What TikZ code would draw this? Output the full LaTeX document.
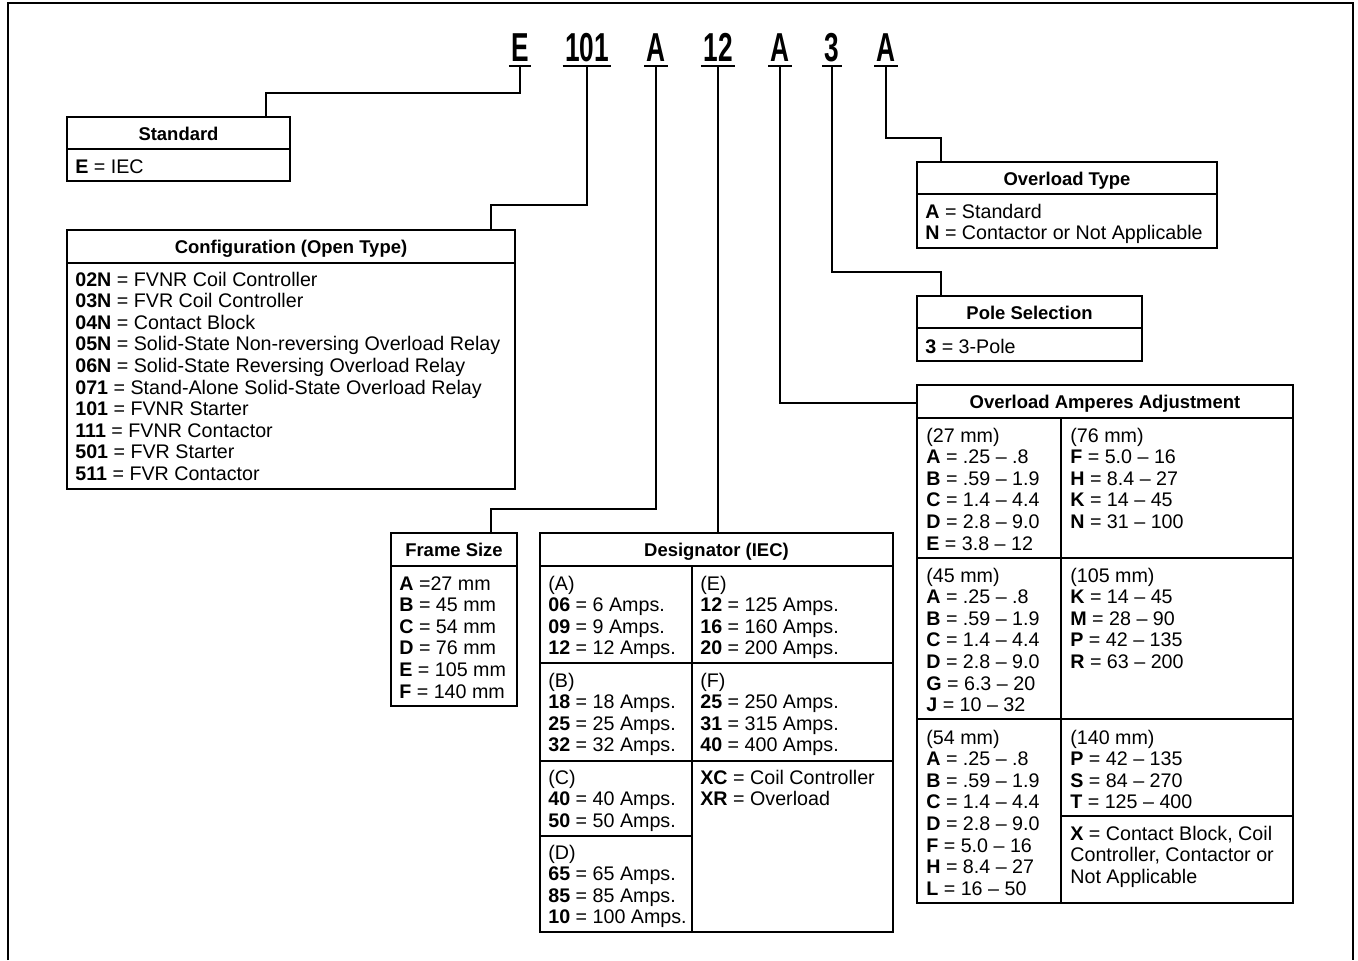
\documentclass[tikz,border=0pt]{standalone}
\usepackage{fontspec}
\setmainfont{Liberation Sans}
\usepackage{graphicx}
\usetikzlibrary{calc,fit}
\tikzset{
  boxline/.style={line width=.85pt},
  boxfr/.style={draw,line width=.85pt,inner sep=0pt,outer sep=0pt},
  boxhd/.style={anchor=base,inner sep=0pt,font=\fontsize{10.5}{12}\selectfont\bfseries},
  entry/.style={anchor=base west,inner sep=0pt,font=\fontsize{11.2}{13}\selectfont},
  codech/.style={anchor=south,inner xsep=1.2pt,inner ysep=2.2pt,font=\fontsize{23}{23}\selectfont\bfseries},
  uline/.style={line width=1.1pt},
  link/.style={line width=.7pt}
}
\newcommand{\bk}[1]{\textbf{#1}}
% box with a title strip: name, x1, y1, x2, y2, divider y, title
\newcommand{\catbox}[7]{%
  \node[boxfr,fit={(#2,#3) (#4,#5)}] (#1) {};
  \draw[boxline] (#2,#6) -- (#4,#6);
  \node[boxhd] (#1-hd) at ({(#2+#4)/2},{(#3+#6)/2+7}) {#7};
}
% lines of a list: name, x, first baseline, lines
\newcommand{\entries}[4]{%
  \foreach \rowtext [count=\i from 0] in {#4} {
    \node[entry] (#1-\i) at (#2,{#3+21.6*\i}) {\rowtext};
  }
}

\begin{document}
\begin{tikzpicture}[x=0.02cm,y=-0.02cm]
  \useasboundingbox (0,0) rectangle (1358,960);
  \draw[boxline] (8,960) -- (8,3) -- (1353,3) -- (1353,960);

  % catalog number
  \foreach \nm/\tx/\px in {cE/E/520, c101/101/587, cA1/A/656, c12/12/718, cA2/A/780, c3/3/832, cA3/A/886} {
    \node[codech] (\nm) at (\px,66) {\scalebox{0.65}[1]{\tx}};
    \draw[uline] (\nm.south west) -- (\nm.south east);
  }

  \catbox{std}{67}{117}{290}{149}{149}{Standard}
  \draw[boxline] (67,149) -- (67,181) -- (290,181) -- (290,149);
  \catbox{cfg}{67}{230}{515}{489}{263}{Configuration (Open Type)}
  \catbox{frm}{391}{533}{517}{706}{566}{Frame Size}
  \catbox{dsg}{540}{533}{893}{932}{566}{Designator (IEC)}
  \catbox{ovt}{917}{162}{1217}{248}{194}{Overload Type}
  \catbox{pol}{917}{296}{1142}{361}{328}{Pole Selection}
  \catbox{amp}{917}{385}{1293}{903}{418}{Overload Amperes Adjustment}

  \draw[boxline] (692,566) -- (692,932);
  \draw[boxline] (540,663) -- (893,663);
  \draw[boxline] (540,761) -- (893,761);
  \draw[boxline] (540,836) -- (692,836);
  \draw[boxline] (1061,418) -- (1061,903);
  \draw[boxline] (917,558) -- (1293,558);
  \draw[boxline] (917,719) -- (1293,719);
  \draw[boxline] (1061,816) -- (1293,816);

  \draw[link] (cE.south) -- ++(0,27) -| ($(std.north east)+(-24,0)$);
  \draw[link] (c101.south) -- ++(0,139) -| ($(cfg.north east)+(-24,0)$);
  \draw[link] (cA1.south) -- ++(0,443) -| ($(frm.north east)+(-26,0)$);
  \draw[link] (c12.south) -- (c12.south |- dsg.north);
  \draw[link] (cA2.south) |- ($(amp.north west)+(0,18)$);
  \draw[link] (c3.south) -- ++(0,206) -| ($(pol.north west)+(24,0)$);
  \draw[link] (cA3.south) -- ++(0,72) -| ($(ovt.north west)+(24,0)$);

  \entries{std-l}{75}{173}{\bk{E} = IEC}
  \entries{cfg-l}{75}{286}{\bk{02N} = FVNR Coil Controller, \bk{03N} = FVR Coil Controller, \bk{04N} = Contact Block, \bk{05N} = Solid-State Non-reversing Overload Relay, \bk{06N} = Solid-State Reversing Overload Relay, \bk{071} = Stand-Alone Solid-State Overload Relay, \bk{101} = FVNR Starter, \bk{111} = FVNR Contactor, \bk{501} = FVR Starter, \bk{511} = FVR Contactor}
  \entries{ovt-l}{925}{218}{\bk{A} = Standard, \bk{N} = Contactor or Not Applicable}
  \entries{pol-l}{925}{353}{\bk{3} = 3-Pole}
  \entries{frm-l}{399}{590}{\bk{A} =27 mm, \bk{B} = 45 mm, \bk{C} = 54 mm, \bk{D} = 76 mm, \bk{E} = 105 mm, \bk{F} = 140 mm}

  \entries{dsg-a}{548}{590}{(A), \bk{06} = 6 Amps., \bk{09} = 9 Amps., \bk{12} = 12 Amps.}
  \entries{dsg-b}{548}{687}{(B), \bk{18} = 18 Amps., \bk{25} = 25 Amps., \bk{32} = 32 Amps.}
  \entries{dsg-c}{548}{784}{(C), \bk{40} = 40 Amps., \bk{50} = 50 Amps.}
  \entries{dsg-d}{548}{859}{(D), \bk{65} = 65 Amps., \bk{85} = 85 Amps., \bk{10} = 100 Amps.}
  \entries{dsg-e}{700}{590}{(E), \bk{12} = 125 Amps., \bk{16} = 160 Amps., \bk{20} = 200 Amps.}
  \entries{dsg-f}{700}{687}{(F), \bk{25} = 250 Amps., \bk{31} = 315 Amps., \bk{40} = 400 Amps.}
  \entries{dsg-x}{700}{784}{\bk{XC} = Coil Controller, \bk{XR} = Overload}

  \entries{amp-27}{926}{442}{(27 mm), \bk{A} = .25 -- .8, \bk{B} = .59 -- 1.9, \bk{C} = 1.4 -- 4.4, \bk{D} = 2.8 -- 9.0, \bk{E} = 3.8 -- 12}
  \entries{amp-45}{926}{582}{(45 mm), \bk{A} = .25 -- .8, \bk{B} = .59 -- 1.9, \bk{C} = 1.4 -- 4.4, \bk{D} = 2.8 -- 9.0, \bk{G} = 6.3 -- 20, \bk{J} = 10 -- 32}
  \entries{amp-54}{926}{744}{(54 mm), \bk{A} = .25 -- .8, \bk{B} = .59 -- 1.9, \bk{C} = 1.4 -- 4.4, \bk{D} = 2.8 -- 9.0, \bk{F} = 5.0 -- 16, \bk{H} = 8.4 -- 27, \bk{L} = 16 -- 50}
  \entries{amp-76}{1070}{442}{(76 mm), \bk{F} = 5.0 -- 16, \bk{H} = 8.4 -- 27, \bk{K} = 14 -- 45, \bk{N} = 31 -- 100}
  \entries{amp-105}{1070}{582}{(105 mm), \bk{K} = 14 -- 45, \bk{M} = 28 -- 90, \bk{P} = 42 -- 135, \bk{R} = 63 -- 200}
  \entries{amp-140}{1070}{744}{(140 mm), \bk{P} = 42 -- 135, \bk{S} = 84 -- 270, \bk{T} = 125 -- 400}
  \entries{amp-x}{1070}{840}{{\bk{X} = Contact Block, Coil}, {Controller, Contactor or}, Not Applicable}
\end{tikzpicture}
\end{document}
